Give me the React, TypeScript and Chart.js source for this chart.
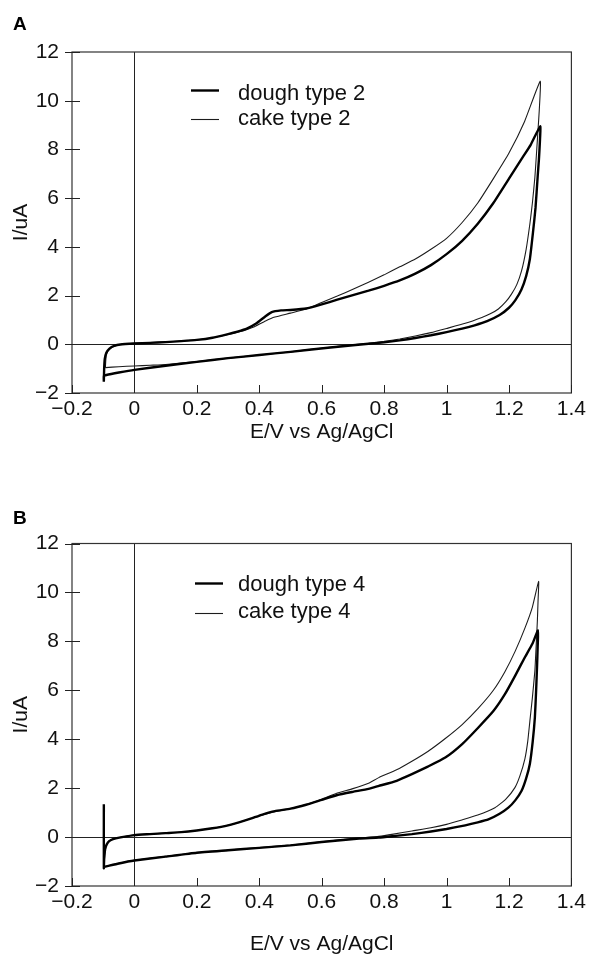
import React, { useEffect, useRef } from 'react';
import { Chart, registerables } from 'chart.js';

Chart.register(...registerables);

// ---------- data ----------
const xTickValues = [-0.2, 0, 0.2, 0.4, 0.6, 0.8, 1, 1.2, 1.4];
const yTickValues = [-2, 0, 2, 4, 6, 8, 10, 12];
const xAxisTitle = 'E/V vs Ag/AgCl';
const yAxisTitle = 'I/uA';

const labelsA = ['dough type 2', 'cake type 2'];
const labelsB = ['dough type 4', 'cake type 4'];

// [E (V), I (uA)] pairs, panel A
const doughA: [number, number][] = [
  [-0.098, -1.54], [-0.097, -1.0], [-0.095, -0.6], [-0.09, -0.35], [-0.08, -0.18], [-0.065, -0.07],
  [-0.045, -0.01], [0, 0.03], [0.05, 0.06], [0.1, 0.09], [0.15, 0.13], [0.2, 0.18], [0.25, 0.27],
  [0.3, 0.42], [0.33, 0.52], [0.36, 0.64], [0.39, 0.85], [0.42, 1.15], [0.44, 1.32], [0.47, 1.39],
  [0.5, 1.41], [0.55, 1.47], [0.6, 1.64], [0.65, 1.83], [0.7, 2.02], [0.75, 2.2], [0.8, 2.4],
  [0.85, 2.62], [0.9, 2.9], [0.95, 3.25], [1.0, 3.7], [1.05, 4.25], [1.1, 4.95], [1.15, 5.8],
  [1.2, 6.8], [1.24, 7.6], [1.27, 8.2], [1.3, 8.95],
  [1.299, 8.3], [1.296, 7.6], [1.292, 6.9], [1.285, 5.6], [1.277, 4.6], [1.267, 3.5], [1.255, 2.8],
  [1.24, 2.25], [1.22, 1.8], [1.2, 1.5], [1.17, 1.2], [1.13, 0.95], [1.09, 0.78], [1.05, 0.64],
  [1.0, 0.5], [0.95, 0.37], [0.9, 0.26], [0.85, 0.16], [0.8, 0.08], [0.75, 0.02], [0.7, -0.04],
  [0.62, -0.14], [0.5, -0.31], [0.4, -0.44], [0.3, -0.57], [0.2, -0.72], [0.1, -0.88], [0, -1.05],
  [-0.05, -1.16], [-0.09, -1.26], [-0.098, -1.3], [-0.098, -1.54],
];

const cakeA: [number, number][] = [
  [-0.093, -0.96], [-0.092, -0.7], [-0.09, -0.45], [-0.085, -0.28], [-0.075, -0.15], [-0.06, -0.06],
  [-0.04, 0.0], [0, 0.04], [0.05, 0.07], [0.1, 0.1], [0.15, 0.13], [0.2, 0.18], [0.25, 0.27],
  [0.3, 0.4], [0.35, 0.56], [0.38, 0.7], [0.42, 0.96], [0.45, 1.12], [0.5, 1.28], [0.55, 1.45],
  [0.6, 1.72], [0.65, 1.98], [0.7, 2.26], [0.75, 2.55], [0.8, 2.85], [0.85, 3.18], [0.9, 3.5],
  [0.95, 3.9], [1.0, 4.35], [1.05, 5.0], [1.1, 5.8], [1.15, 6.8], [1.2, 7.85], [1.25, 9.15], [1.3, 10.8],
  [1.297, 9.6], [1.293, 8.8], [1.288, 7.8], [1.283, 6.86], [1.275, 5.8], [1.267, 4.95], [1.255, 3.9],
  [1.24, 3.0], [1.225, 2.45], [1.208, 2.06], [1.19, 1.75], [1.166, 1.45], [1.14, 1.25], [1.113, 1.1],
  [1.06, 0.86], [1.0, 0.65], [0.95, 0.48], [0.9, 0.34], [0.85, 0.22], [0.8, 0.12], [0.75, 0.04],
  [0.7, -0.02], [0.62, -0.13], [0.5, -0.31], [0.4, -0.44], [0.3, -0.57], [0.2, -0.71], [0.1, -0.83],
  [0.05, -0.86], [0, -0.89], [-0.05, -0.92], [-0.093, -0.96],
];

// panel B
const doughB: [number, number][] = [
  [-0.098, 1.34], [-0.098, -1.27], [-0.097, -0.9], [-0.095, -0.6], [-0.092, -0.4], [-0.085, -0.22],
  [-0.075, -0.12], [-0.06, -0.05], [-0.04, 0.0], [0, 0.08], [0.05, 0.12], [0.1, 0.16], [0.15, 0.2],
  [0.2, 0.27], [0.25, 0.36], [0.3, 0.48], [0.34, 0.62], [0.37, 0.74], [0.41, 0.92], [0.45, 1.06],
  [0.5, 1.16], [0.55, 1.32], [0.6, 1.52], [0.65, 1.72], [0.7, 1.85], [0.75, 1.97], [0.783, 2.09],
  [0.84, 2.3], [0.889, 2.57], [0.94, 2.88], [0.996, 3.25], [1.05, 3.8], [1.102, 4.48], [1.15, 5.15],
  [1.187, 5.84], [1.22, 6.6], [1.251, 7.35], [1.275, 7.9], [1.293, 8.45],
  [1.292, 7.8], [1.29, 7.0], [1.287, 6.0], [1.283, 4.9], [1.276, 3.9], [1.267, 3.0], [1.255, 2.4],
  [1.24, 1.88], [1.22, 1.5], [1.198, 1.2], [1.17, 0.95], [1.134, 0.72], [1.1, 0.6], [1.06, 0.48],
  [1.0, 0.33], [0.95, 0.23], [0.889, 0.12], [0.83, 0.04], [0.783, -0.02], [0.72, -0.06], [0.6, -0.2],
  [0.5, -0.34], [0.4, -0.44], [0.3, -0.54], [0.2, -0.64], [0.1, -0.8], [0, -0.96], [-0.05, -1.08],
  [-0.09, -1.2], [-0.097, -1.22],
];

const cakeB: [number, number][] = [
  [-0.097, -1.22], [-0.096, -0.9], [-0.094, -0.6], [-0.091, -0.4], [-0.085, -0.22], [-0.075, -0.12],
  [-0.06, -0.05], [-0.04, 0.0], [0, 0.08], [0.05, 0.12], [0.1, 0.16], [0.15, 0.2], [0.2, 0.27],
  [0.25, 0.36], [0.3, 0.48], [0.34, 0.62], [0.37, 0.74], [0.41, 0.9], [0.45, 1.04], [0.5, 1.16],
  [0.55, 1.33], [0.6, 1.55], [0.65, 1.8], [0.7, 1.98], [0.75, 2.2], [0.783, 2.43], [0.84, 2.75],
  [0.889, 3.1], [0.94, 3.5], [0.996, 4.03], [1.05, 4.6], [1.102, 5.27], [1.15, 6.0], [1.187, 6.76],
  [1.22, 7.6], [1.251, 8.54], [1.275, 9.4], [1.295, 10.45],
  [1.293, 9.6], [1.291, 8.85], [1.287, 7.8], [1.283, 6.8], [1.275, 5.7], [1.267, 4.75], [1.26, 3.9],
  [1.251, 3.2], [1.235, 2.5], [1.219, 2.02], [1.19, 1.55], [1.155, 1.2], [1.1, 0.9], [1.049, 0.7],
  [1.0, 0.52], [0.95, 0.38], [0.889, 0.25], [0.83, 0.12], [0.783, 0.03], [0.72, -0.04], [0.6, -0.19],
  [0.5, -0.33], [0.4, -0.43], [0.3, -0.53], [0.2, -0.63], [0.1, -0.79], [0, -0.95], [-0.05, -1.07],
  [-0.09, -1.19], [-0.097, -1.22],
];

// ---------- styling / layout ----------
const FONT = "'Liberation Sans', Arial, Helvetica, sans-serif";
const INK = '#111';

type PanelSpec = {
  letter: string;
  top: number;
  height: number;
  padTop: number;
  xAxisH: number;
  titlePadB: number;
  dough: [number, number][];
  cake: [number, number][];
  labels: string[];
  legend: { x1: number; x2: number; textX: number; rows: { lineY: number; baseY: number }[] };
  letterY: number;
};

const fmt = (v: number) => (v < 0 ? '\u2212' + String(-v) : String(v));
const toXY = (arr: [number, number][]) => arr.map(([x, y]) => ({ x, y }));

function makePlugin(spec: PanelSpec) {
  return {
    id: 'frame' + spec.letter,
    beforeDatasetsDraw(chart: any) {
      const { ctx, chartArea: a, scales } = chart;
      const x0 = Math.round(scales.x.getPixelForValue(0)) + 0.5;
      const y0 = Math.round(scales.y.getPixelForValue(0)) + 0.5;
      ctx.save();
      ctx.strokeStyle = '#222';
      ctx.lineWidth = 1;
      ctx.beginPath();
      ctx.moveTo(x0, a.top);
      ctx.lineTo(x0, a.bottom);
      ctx.moveTo(a.left, y0);
      ctx.lineTo(a.right, y0);
      ctx.stroke();
      ctx.restore();
    },
    afterDraw(chart: any) {
      const { ctx, chartArea: a, scales } = chart;
      ctx.save();
      // frame
      ctx.strokeStyle = '#333';
      ctx.lineWidth = 1.2;
      ctx.strokeRect(a.left, a.top, a.right - a.left, a.bottom - a.top);
      // ticks
      ctx.lineWidth = 1;
      ctx.strokeStyle = '#222';
      ctx.beginPath();
      scales.x.ticks.forEach((t: any) => {
        const px = Math.round(scales.x.getPixelForValue(t.value)) + 0.5;
        ctx.moveTo(px, a.bottom);
        ctx.lineTo(px, a.bottom - 8);
      });
      scales.y.ticks.forEach((t: any) => {
        const py = Math.round(scales.y.getPixelForValue(t.value)) + 0.5;
        ctx.moveTo(a.left - 7, py);
        ctx.lineTo(a.left + 8, py);
      });
      ctx.stroke();
      // legend
      const lg = spec.legend;
      chart.data.datasets.forEach((ds: any, i: number) => {
        const r = lg.rows[i];
        ctx.strokeStyle = ds.borderColor;
        ctx.lineWidth = ds.borderWidth;
        ctx.beginPath();
        ctx.moveTo(lg.x1, r.lineY);
        ctx.lineTo(lg.x2, r.lineY);
        ctx.stroke();
        ctx.fillStyle = INK;
        ctx.font = `22px ${FONT}`;
        ctx.textBaseline = 'alphabetic';
        ctx.textAlign = 'left';
        ctx.fillText(ds.label, lg.textX, r.baseY);
      });
      // panel letter
      ctx.fillStyle = '#000';
      ctx.font = `bold 19px ${FONT}`;
      ctx.fillText(spec.letter, 13, spec.letterY);
      ctx.restore();
    },
  };
}

function makeConfig(spec: PanelSpec): any {
  const tickFont = { family: FONT, size: 21 };
  return {
    type: 'scatter',
    data: {
      datasets: [
        {
          label: spec.labels[0],
          data: toXY(spec.dough),
          showLine: true,
          borderColor: '#000',
          borderWidth: 2.4,
          pointRadius: 0,
          tension: 0.15,
          fill: false,
        },
        {
          label: spec.labels[1],
          data: toXY(spec.cake),
          showLine: true,
          borderColor: '#1c1c1c',
          borderWidth: 1.1,
          pointRadius: 0,
          tension: 0.15,
          fill: false,
        },
      ],
    },
    options: {
      animation: false,
      responsive: false,
      devicePixelRatio: 1,
      layout: { padding: { top: spec.padTop, right: 17, left: 0, bottom: 0 } },
      plugins: { legend: { display: false }, tooltip: { enabled: false }, title: { display: false } },
      scales: {
        x: {
          type: 'linear',
          min: -0.2,
          max: 1.4,
          afterBuildTicks: (s: any) => {
            s.ticks = xTickValues.map((v) => ({ value: v }));
          },
          afterFit: (s: any) => {
            s.height = spec.xAxisH;
          },
          grid: { display: false, drawTicks: false },
          border: { display: false },
          ticks: {
            font: tickFont,
            color: INK,
            padding: 4,
            maxRotation: 0,
            autoSkip: false,
            callback: (v: any) => fmt(Number(v)),
          },
          title: {
            display: true,
            text: xAxisTitle,
            font: tickFont,
            color: INK,
            padding: { top: 0, bottom: spec.titlePadB },
          },
        },
        y: {
          type: 'linear',
          min: -2,
          max: 12,
          afterBuildTicks: (s: any) => {
            s.ticks = yTickValues.map((v) => ({ value: v }));
          },
          afterFit: (s: any) => {
            s.width = 72;
          },
          grid: { display: false, drawTicks: false },
          border: { display: false },
          ticks: {
            font: tickFont,
            color: INK,
            padding: 13,
            autoSkip: false,
            callback: (v: any) => fmt(Number(v)),
          },
          title: {
            display: true,
            text: yAxisTitle,
            font: tickFont,
            color: INK,
            padding: { top: 9, bottom: 0 },
          },
        },
      },
    },
    plugins: [makePlugin(spec)],
  };
}

const specA: PanelSpec = {
  letter: 'A',
  top: 0,
  height: 477,
  padTop: 52,
  xAxisH: 84,
  titlePadB: 32,
  dough: doughA,
  cake: cakeA,
  labels: labelsA,
  legend: { x1: 191, x2: 219, textX: 238, rows: [{ lineY: 90.5, baseY: 100 }, { lineY: 119.5, baseY: 125 }] },
  letterY: 29.5,
};

const specB: PanelSpec = {
  letter: 'B',
  top: 477,
  height: 478,
  padTop: 66.5,
  xAxisH: 69,
  titlePadB: -2,
  dough: doughB,
  cake: cakeB,
  labels: labelsB,
  legend: { x1: 195, x2: 223, textX: 238, rows: [{ lineY: 106.5, baseY: 114 }, { lineY: 136.5, baseY: 141 }] },
  letterY: 47,
};

function Panel({ spec }: { spec: PanelSpec }) {
  const ref = useRef<HTMLCanvasElement>(null);
  useEffect(() => {
    if (!ref.current) return;
    const chart = new Chart(ref.current, makeConfig(spec));
    return () => chart.destroy();
  }, [spec]);
  return (
    <div style={{ position: 'absolute', left: 0, top: spec.top, width: 590, height: spec.height }}>
      <canvas ref={ref} width={590} height={spec.height} style={{ display: 'block', width: 590, height: spec.height }} />
    </div>
  );
}

export default function App() {
  return (
    <div style={{ position: 'absolute', left: 0, top: 0, width: 590, height: 955, background: '#fff' }}>
      <Panel spec={specA} />
      <Panel spec={specB} />
    </div>
  );
}
